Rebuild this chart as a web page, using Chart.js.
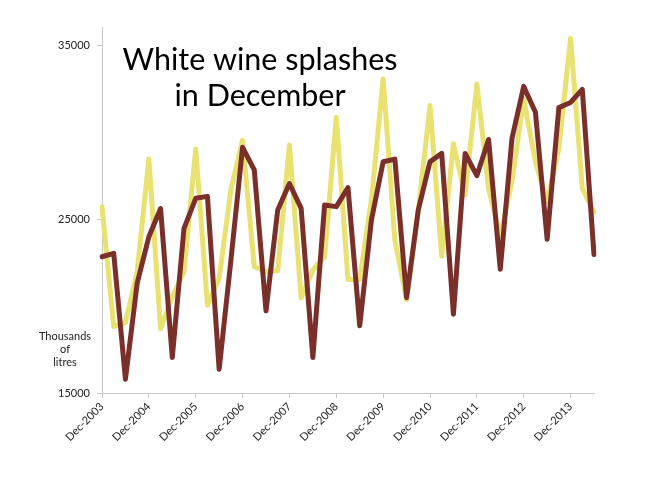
<!DOCTYPE html>
<html>
<head>
<meta charset="utf-8">
<script src="https://cdn.jsdelivr.net/npm/chart.js@4.4.1/dist/chart.umd.min.js"></script>
<style>
  html, body { margin: 0; padding: 0; background: #fff; }
  #wineChart { display: block; }
</style>
</head>
<body>
<canvas id="wineChart" width="650" height="478"></canvas>
<script>
const quarters = [
   'Dec-2003', 'Mar-2004', 'Jun-2004', 'Sep-2004',
   'Dec-2004', 'Mar-2005', 'Jun-2005', 'Sep-2005',
   'Dec-2005', 'Mar-2006', 'Jun-2006', 'Sep-2006',
   'Dec-2006', 'Mar-2007', 'Jun-2007', 'Sep-2007',
   'Dec-2007', 'Mar-2008', 'Jun-2008', 'Sep-2008',
   'Dec-2008', 'Mar-2009', 'Jun-2009', 'Sep-2009',
   'Dec-2009', 'Mar-2010', 'Jun-2010', 'Sep-2010',
   'Dec-2010', 'Mar-2011', 'Jun-2011', 'Sep-2011',
   'Dec-2011', 'Mar-2012', 'Jun-2012', 'Sep-2012',
   'Dec-2012', 'Mar-2013', 'Jun-2013', 'Sep-2013',
   'Dec-2013', 'Mar-2014', 'Jun-2014'
];

// thousands of litres
const yellowSeries = [
   25700, 18820, 19050, 21950, 28450, 18700, 20530, 21970, 29020, 20050,
   21590, 26670, 29520, 22260, 21970, 22030, 29250, 20460, 22070, 22830,
   30850, 21520, 21520, 26100, 33050, 23790, 20370, 25500, 31520, 22860,
   29320, 26380, 32760, 26760, 24010, 27180, 31900, 28290, 26000, 29060,
   35380, 26760, 25400
];
const brownSeries = [
   22830, 23030, 15790, 21300, 23980, 25600, 17040, 24460, 26190, 26300,
   16360, 22600, 29120, 27820, 19720, 25520, 27040, 25610, 17040, 25800,
   25710, 26800, 18860, 24940, 28290, 28440, 20480, 25520, 28290, 28770,
   19530, 28770, 27490, 29570, 22110, 29640, 32620, 31130, 23840, 31400,
   31700, 32450, 22960
];

const yTicks = [15000, 25000, 35000];
const titleLines = ['White wine splashes', 'in December'];
const unitLines = ['Thousands', 'of', 'litres'];

const axisGrey = '#c9c9c9';

const overlayText = {
   id: 'overlayText',
   afterDraw(chart) {
      const ctx = chart.ctx;
      const area = chart.chartArea;
      const y = chart.scales.y;
      ctx.save();
      ctx.fillStyle = '#000';
      ctx.textAlign = 'center';
      ctx.textBaseline = 'alphabetic';
      ctx.font = '30.5px Lato';
      titleLines.forEach((t, i) => ctx.fillText(t, 260, 70 + i * 36));

      ctx.fillStyle = '#222';
      ctx.font = '11px Lato';
      const base = y.getPixelForValue(17000) - 18;
      unitLines.forEach((t, i) => ctx.fillText(t, area.left - 37, base + i * 13));
      ctx.restore();
   }
};

new Chart(document.getElementById('wineChart'), {
   type: 'line',
   data: {
      labels: quarters,
      datasets: [{
         label: 'Brown series',
         data: brownSeries,
         borderColor: '#7a2f2a',
         backgroundColor: '#7a2f2a',
         borderWidth: 5,
         borderJoinStyle: 'round',
         borderCapStyle: 'round',
         pointRadius: 0,
         tension: 0
      }, {
         label: 'Yellow series',
         data: yellowSeries,
         borderColor: '#e9e271',
         backgroundColor: '#e9e271',
         borderWidth: 5,
         borderJoinStyle: 'round',
         borderCapStyle: 'round',
         pointRadius: 0,
         tension: 0
      }]
   },
   options: {
      responsive: false,
      animation: false,
      layout: { padding: { top: 27.6, right: 56, left: 0, bottom: 0 } },
      plugins: {
         legend: { display: false },
         tooltip: { enabled: false }
      },
      scales: {
         x: {
            offset: false,
            afterFit: s => { s.height = 85; },
            afterBuildTicks: s => { s.ticks = s.ticks.filter(t => t.value % 4 === 0); },
            border: { color: axisGrey, width: 1 },
            grid: { drawOnChartArea: false, color: axisGrey, tickLength: 5 },
            ticks: {
               autoSkip: false,
               minRotation: 45,
               maxRotation: 45,
               padding: 2,
               color: '#222',
               font: { family: 'Lato', size: 11 }
            }
         },
         y: {
            min: 15000,
            max: 36000,
            afterFit: s => { s.width = 102; },
            afterBuildTicks: s => { s.ticks = yTicks.map(v => ({ value: v })); },
            border: { color: axisGrey, width: 1 },
            grid: { drawOnChartArea: false, color: axisGrey, tickLength: 5 },
            ticks: {
               padding: 7,
               color: '#222',
               font: { family: 'Lato', size: 11 },
               callback: v => String(v)
            }
         }
      }
   },
   plugins: [overlayText]
});
</script>
</body>
</html>
